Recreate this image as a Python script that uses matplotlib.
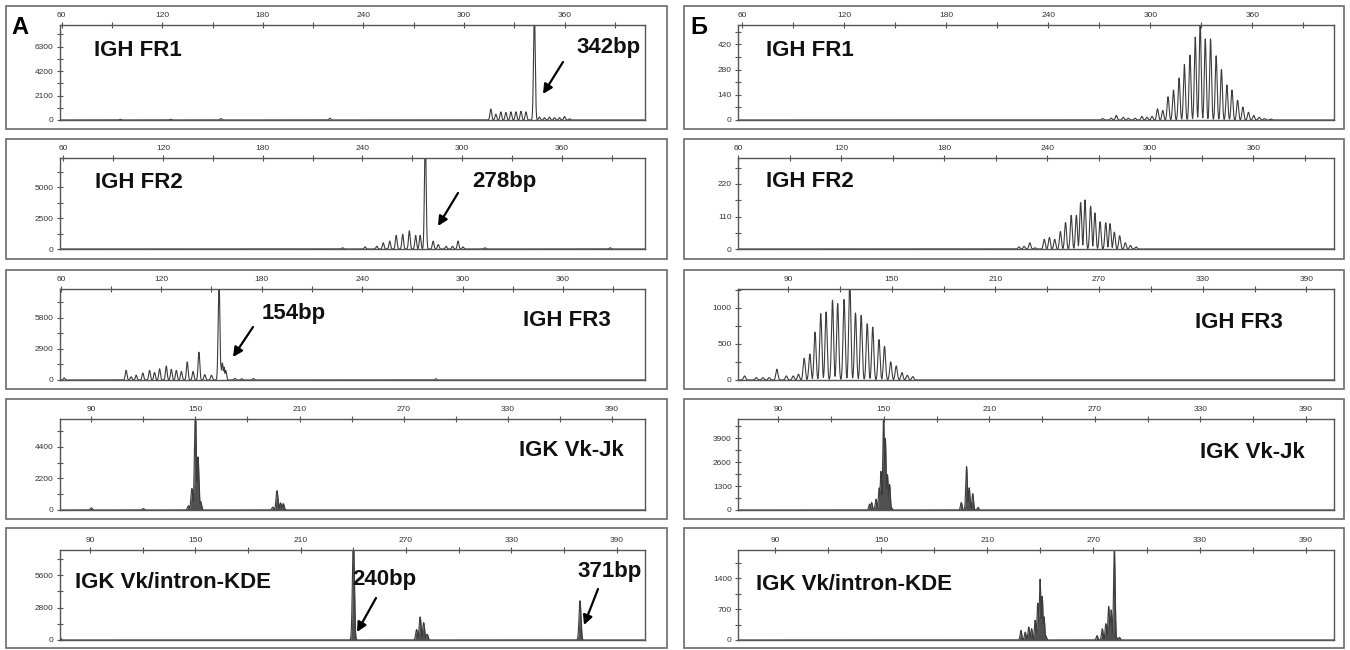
import numpy as np
import matplotlib.pyplot as plt
from matplotlib.patches import Rectangle

plt.rcParams['font.family'] = ['Liberation Sans', 'DejaVu Sans']

W, H = 1350, 650

# --- А: peaks (bp, height) ---
a1_pos = [95, 125, 155, 220, 316, 319, 322, 325, 328, 331, 334, 337, 342, 345, 348, 351, 354, 357, 360, 363]
a1_h = [60, 60, 120, 150, 950, 500, 700, 650, 700, 700, 750, 700, 9500, 250, 200, 250, 200, 200, 300, 100]

a2_pos = [228, 241.6, 248.6, 252.5, 256.4, 260.3, 264.2, 268.2, 272, 274.7, 277.8, 282.5, 285.6, 290.3, 294.2, 297.5, 300.5, 313.7, 389]
a2_h = [100, 170, 220, 500, 640, 1100, 1190, 1470, 1100, 1100, 9500, 640, 360, 220, 220, 640, 170, 100, 100]

a3_pos = [62, 99, 102, 105, 109, 113, 116, 119, 123, 126, 129, 132, 135.5, 139, 142.5, 146, 150, 154.5, 155.5, 156.5, 157.5, 158.5, 164, 168, 175, 284]
a3_h = [200, 900, 300, 450, 650, 900, 700, 1050, 1300, 1000, 900, 800, 1700, 800, 2600, 500, 450, 9500, 1400, 1600, 1200, 900, 150, 120, 150, 120]

a4_pos = [90, 120, 146, 148, 150, 151.5, 153, 194.6, 197, 199, 200.6]
a4_h = [150, 100, 300, 1500, 7000, 3700, 600, 200, 1350, 500, 450]

a5_pos = [73, 240, 276, 278, 280, 282, 369]
a5_h = [200, 9000, 900, 2000, 1500, 500, 3400]

# --- Б: peaks (bp, height) ---
b1_pos = [272, 277, 280, 284, 287, 291, 295, 298, 301, 304.2, 307.3, 310.4, 313.6, 316.9, 320, 323.3, 326.4, 329.3,
          332.3, 335.4, 338.7, 341.8, 345, 348, 351.3, 354.4, 357.7, 360.8, 364, 367, 371]
b1_h = [8, 10, 25, 15, 10, 10, 20, 15, 20, 62, 53, 129, 166, 233, 308, 360, 460, 540,
        450, 450, 356, 280, 195, 166, 110, 72, 43, 25, 15, 8, 5]

b2_pos = [223.6, 226.6, 229.9, 233, 238.3, 241.3, 244.4, 247.7, 250.7, 254, 257, 259.5, 262, 265.3, 267.8,
          270.8, 274.1, 276.6, 279.1, 282.2, 285.5, 288.5, 291.8]
b2_h = [7, 9, 21, 4, 33, 39, 33, 59, 90, 114, 114, 157, 166, 145, 122,
        92, 89, 86, 57, 45, 21, 12, 7]

b3_pos = [64.8, 71.6, 75.4, 79, 83.5, 89, 93, 96, 99.3, 102.6, 105.6, 108.9, 112, 115.7, 118.7, 122.4, 125.7,
          129, 132.3, 135.8, 139, 142.6, 145.8, 149.4, 152.6, 155.9, 159, 162.2]
b3_h = [56, 33, 33, 33, 150, 56, 56, 80, 300, 360, 664, 920, 944, 1107, 1060, 1117, 1400,
        930, 897, 780, 734, 560, 467, 252, 196, 103, 65, 47]

b4_pos = [141.8, 143, 145.5, 147.3, 148.3, 149.8, 150.8, 152, 153.2, 154.2, 194, 197, 198.5, 200.5, 203.5]
b4_h = [320, 410, 590, 1200, 2100, 5200, 3880, 1920, 1390, 140, 410, 2370, 1210, 890, 140]

b5_pos = [229, 231.4, 233.4, 235, 237, 238.5, 239.8, 241, 242, 243, 272, 275, 277, 278.6, 280, 281.8, 283, 284.7]
b5_h = [218, 180, 296, 257, 450, 840, 1384, 995, 530, 100, 100, 257, 373, 762, 684, 2100, 60, 60]

ticks60 = [60, 120, 180, 240, 300, 360]
ticks90 = [90, 150, 210, 270, 330, 390]

# panel layout: column, row, data, xlim, ylim, x ticks, y step, sigma, filled
cols = {'L': (6, 667, 60, 645), 'R': (684, 1344, 738, 1334)}
rows = [(6, 129, 25, 120), (139, 259, 158, 249), (270, 389, 289, 380), (399, 519, 419, 510), (528, 648, 550, 640)]

panels = [
    ('L', 0, a1_pos, a1_h, (59, 408), 8160, ticks60, 2100, 0.5, False),
    ('L', 1, a2_pos, a2_h, (58, 410), 7360, ticks60, 2500, 0.5, False),
    ('L', 2, a3_pos, a3_h, (59.5, 409), 8500, ticks60, 2900, 0.5, False),
    ('L', 3, a4_pos, a4_h, (72, 409), 6340, ticks90, 2200, 0.55, True),
    ('L', 4, a5_pos, a5_h, (73, 406), 7780, ticks90, 2800, 0.55, True),
    ('R', 0, b1_pos, b1_h, (57.5, 408), 527, ticks60, 140, 0.55, False),
    ('R', 1, b2_pos, b2_h, (60, 407), 308, ticks60, 110, 0.55, False),
    ('R', 2, b3_pos, b3_h, (61, 406), 1262, ticks90, 500, 0.6, False),
    ('R', 3, b4_pos, b4_h, (67, 406), 4949, ticks90, 1300, 0.45, True),
    ('R', 4, b5_pos, b5_h, (69, 406), 2045, ticks90, 700, 0.45, True),
]

labels = [
    ('IGH FR1', 94, 50), ('IGH FR2', 95, 182), ('IGH FR3', 523, 321), ('IGK Vk-Jk', 519, 450),
    ('IGK Vk/intron-KDE', 75, 583),
    ('IGH FR1', 766, 50), ('IGH FR2', 766, 181), ('IGH FR3', 1195, 323), ('IGK Vk-Jk', 1200, 452),
    ('IGK Vk/intron-KDE', 756, 584),
    ('342bp', 576, 48), ('278bp', 472, 181), ('154bp', 262, 314), ('240bp', 352, 580), ('371bp', 577, 572),
]
arrows = [((563, 62), (543, 94)), ((458, 193), (438, 226)), ((253, 327), (233, 357)),
          ((376, 598), (357, 632)), ((598, 589), (584, 625))]


def fx(x):
    return x / W


def fy(y):
    return 1 - y / H


fig = plt.figure(figsize=(13.5, 6.5), dpi=100)
fig.patch.set_facecolor('white')

line_col = '#3c3c3c'
for col, r, pos, hts, xl, ytop, xt, ystep, sig, filled in panels:
    ol, orr, al, ar = cols[col]
    ot, ob, at, ab = rows[r]
    fig.patches.append(Rectangle((fx(ol), fy(ob)), fx(orr) - fx(ol), fy(ot) - fy(ob),
                                 transform=fig.transFigure, fill=False, ec='#6a6a6a', lw=1.2))
    ax = fig.add_axes([fx(al), fy(ab), fx(ar) - fx(al), fy(at) - fy(ab)])
    x = np.linspace(xl[0], xl[1], 6000)
    p = np.asarray(pos)[:, None]
    h = np.asarray(hts)[:, None]
    y = (h * np.exp(-0.5 * ((x - p) / sig) ** 2)).max(axis=0)
    if filled:
        ax.fill_between(x, 0, y, color='#505050', lw=0)
    ax.plot(x, y, color=line_col, lw=0.8)
    ax.xaxis.tick_top()
    ax.set_xticks(xt)
    ax.set_xticks([t + 30 for t in xt if t + 30 < xl[1]], minor=True)
    yt = [ystep * k for k in range(int(ytop // ystep) + 1)]
    ax.set_yticks(yt)
    ax.set_yticks([v + ystep / 2 for v in yt if v + ystep / 2 < ytop], minor=True)
    ax.set_xlim(xl)
    ax.set_ylim(0, ytop)
    ax.tick_params(which='both', direction='inout', length=5, width=0.8, color='#555555',
                   labelsize=6, labelcolor='#333333', pad=2)
    for s in ax.spines.values():
        s.set_color('#555555')
        s.set_linewidth(1.0)

for txt, x0, y0 in labels:
    fig.text(fx(x0), fy(y0), txt, ha='left', va='center', fontsize=16, fontweight='bold', color='#111111')

fig.text(fx(11), fy(28), 'А', ha='left', va='center', fontsize=17, fontweight='bold')
fig.text(fx(690), fy(28), 'Б', ha='left', va='center', fontsize=17, fontweight='bold')

for tail, head in arrows:
    fig.add_artist(plt.Annotation('', xy=(fx(head[0]), fy(head[1])), xytext=(fx(tail[0]), fy(tail[1])),
                                  xycoords='figure fraction',
                                  arrowprops=dict(arrowstyle='-|>', color='black', lw=1.6,
                                                  mutation_scale=14, shrinkA=0, shrinkB=0)))

fig.savefig('out.png', dpi=100)
